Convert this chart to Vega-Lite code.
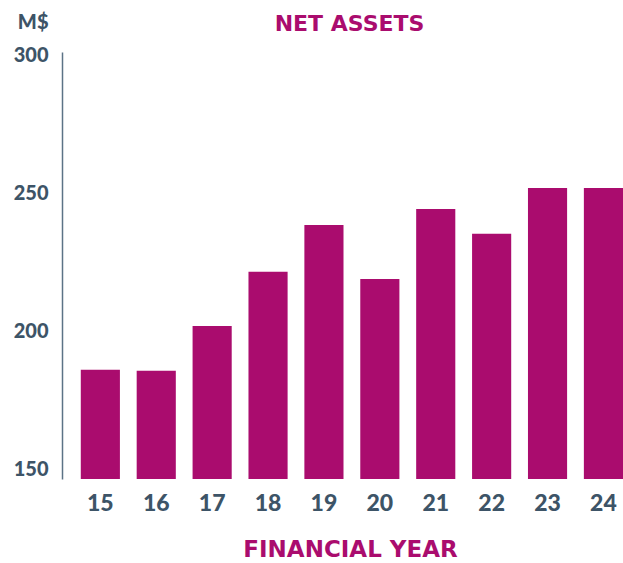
{
  "$schema": "https://vega.github.io/schema/vega-lite/v6.json",
  "autosize": {"type": "none"},
  "padding": {"left": 62, "top": 52, "right": 0, "bottom": 84},
  "width": 561,
  "height": 427,
  "background": "white",
  "config": {"view": {"stroke": null}, "font": "Lato"},
  "title": {
    "text": "NET ASSETS",
    "anchor": "middle",
    "dx": 7,
    "fontSize": 22,
    "fontWeight": "bold",
    "font": "DejaVu Sans",
    "color": "#AA0C6E",
    "baseline": "alphabetic",
    "offset": 0,
    "dy": 41
  },
  "data": {
    "values": [
      {"year": "15", "assets": 186.1},
      {"year": "16", "assets": 185.8},
      {"year": "17", "assets": 202.0},
      {"year": "18", "assets": 221.6},
      {"year": "19", "assets": 238.5},
      {"year": "20", "assets": 219.0},
      {"year": "21", "assets": 244.3},
      {"year": "22", "assets": 235.3},
      {"year": "23", "assets": 251.9},
      {"year": "24", "assets": 251.9}
    ]
  },
  "mark": {"type": "bar", "color": "#AA0C6E", "clip": true},
  "encoding": {
    "x": {
      "field": "year",
      "type": "ordinal",
      "sort": null,
      "scale": {"paddingInner": 0.3, "paddingOuter": 0.168, "align": 1},
      "axis": {
        "title": "FINANCIAL YEAR",
        "titleFont": "DejaVu Sans",
        "titleFontSize": 23,
        "titleFontWeight": "bold",
        "titleColor": "#AA0C6E",
        "titleX": 288,
        "titleY": 77,
        "titleAlign": "center",
        "titleBaseline": "alphabetic",
        "labelAngle": 0,
        "labelFont": "Lato",
        "labelFontSize": 23,
        "labelFontWeight": 900,
        "labelColor": "#3D5467",
        "labelPadding": 13,
        "ticks": false,
        "domain": false,
        "grid": false
      }
    },
    "y": {
      "field": "assets",
      "type": "quantitative",
      "scale": {"domain": [146.6, 301.1], "nice": false, "zero": false},
      "axis": {
        "values": [150, 200, 250, 300],
        "title": "M$",
        "titleAngle": 0,
        "titleFont": "Lato",
        "titleFontSize": 20,
        "titleFontWeight": 900,
        "titleColor": "#3D5467",
        "titleX": -14,
        "titleY": -24,
        "titleAlign": "right",
        "titleBaseline": "alphabetic",
        "labelFont": "Lato",
        "labelFontSize": 20,
        "labelFontWeight": 900,
        "labelColor": "#3D5467",
        "labelPadding": 14,
        "labelBaseline": "middle",
        "ticks": false,
        "domain": true,
        "domainColor": "#5C7386",
        "domainWidth": 1.5,
        "grid": false
      }
    }
  }
}
